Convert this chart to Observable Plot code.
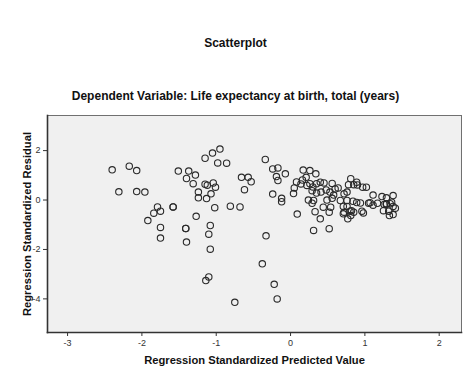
<!DOCTYPE html>
<html><head><meta charset="utf-8">
<script src="https://cdn.jsdelivr.net/npm/d3@7"></script>
<script src="https://cdn.jsdelivr.net/npm/@observablehq/plot@0.6"></script>
<style>html,body{margin:0;padding:0;background:#fff}</style>
</head><body><div id="chart"></div>
<script>
const chartTitle = "Scatterplot";
const subtitle = "Dependent Variable: Life expectancy at birth, total (years)";
const xLabel = "Regression Standardized Predicted Value";
const yLabel = "Regression Standardized Residual";
const xTicks = [-3, -2, -1, 0, 1, 2];
const yTicks = [-4, -2, 0, 2];
const predicted = [
-2.40,-2.17,-2.07,-2.31,-2.07,-1.96,-1.79,-1.84,-1.75,-1.58,-1.58,-1.92,-1.75,-1.75,-1.41,-1.41,-1.40,-1.51,-1.37,-1.40,
-1.15,-1.05,-0.95,-0.98,-0.86,-1.28,-1.31,-1.15,-1.12,-1.04,-1.01,-1.24,-1.07,-1.24,-1.13,-1.02,-0.81,-0.68,-1.27,-1.08,-1.10,-1.08,-1.10,-1.14,-0.75,-0.66,-0.57,-0.53,-0.62,-0.34,-0.33,-0.38,-0.22,-0.18,
-0.24,-0.17,-0.19,-0.17,-0.07,-0.24,-0.12,-0.12,0.17,0.26,0.34,0.08,0.16,0.21,0.14,0.22,0.05,0.04,0.26,0.30,0.29,0.35,0.40,0.45,0.56,0.48,0.53,0.41,0.35,0.24,0.29,0.31,0.49,0.56,0.58,0.60,0.64,0.72,0.76,0.81,0.78,0.85,0.89,0.90,0.97,1.02,0.67,0.76,0.84,0.89,0.94,0.76,0.72,0.82,0.85,0.96,0.98,0.77,0.54,0.44,0.52,0.09,0.33,0.40,0.31,0.52,0.71,0.80,0.71,0.81,1.05,1.11,1.07,1.11,1.17,1.23,1.29,1.38,1.26,1.29,1.29,1.29,1.34,1.38,1.41,1.25,1.32,1.33,1.38,1.36
];
const residual = [
1.22,1.37,1.19,0.33,0.34,0.32,-0.28,-0.53,-0.45,-0.28,-0.28,-0.83,-1.11,-1.54,-1.15,-1.15,-1.70,1.17,1.17,0.87,
1.69,1.90,2.06,1.50,1.49,1.01,0.66,0.64,0.60,0.69,0.52,0.32,0.25,0.09,0.06,-0.31,-0.25,-0.28,-0.66,-1.03,-1.38,-1.99,-3.11,-3.26,-4.14,0.92,0.92,0.74,0.42,1.64,-1.45,-2.58,-3.41,-4.00,
1.26,1.30,0.95,0.79,1.06,0.24,0.07,-0.07,1.21,1.19,1.06,0.73,0.81,0.92,0.65,0.59,0.49,0.26,0.66,0.53,0.38,0.66,0.72,0.69,0.67,0.41,0.32,0.32,0.28,0.00,-0.13,-0.02,0.00,0.07,0.20,0.45,0.49,0.25,0.32,0.86,0.62,0.62,0.72,0.61,0.52,0.52,-0.02,-0.02,-0.05,-0.10,-0.12,-0.26,-0.49,-0.43,-0.49,-0.45,-0.52,-0.76,-0.29,-0.29,-0.49,-0.57,-0.47,-0.76,-1.23,-1.16,-0.26,-0.45,-0.56,-0.63,-0.13,0.20,-0.11,-0.21,-0.13,0.14,0.09,0.18,-0.18,-0.16,-0.16,-0.16,-0.15,-0.26,-0.33,-0.43,-0.45,-0.63,-0.59,-0.09
];
const points = predicted.map((x, i) => ({x, y: residual[i]}));
const font = "'Liberation Sans', Arial, sans-serif";
const txt = {text: d => d, fontWeight: "bold", fontSize: 12, fill: "#111", lineAnchor: "middle", textAnchor: "middle"};
const plot = Plot.plot({
  width: 470, height: 376,
  marginTop: 115, marginBottom: 44, marginLeft: 47, marginRight: 9,
  style: {fontFamily: font, background: "#fff", color: "#222", overflow: "visible"},
  x: {domain: [-3.27, 2.30]},
  y: {domain: [-5.36, 3.42]},
  marks: [
    Plot.frame({fill: "#f0f0f0", stroke: "#707070"}),
    Plot.frame({anchor: "bottom", stroke: "#333", strokeWidth: 1.6}),
    Plot.frame({anchor: "left", stroke: "#333", strokeWidth: 1.6}),
    Plot.axisX(xTicks, {tickSize: 4, tickPadding: 3, fontSize: 9, tickFormat: d => String(d), label: null, stroke: "#333", fill: "#333"}),
    Plot.axisY(yTicks, {tickSize: 4, tickPadding: 3, fontSize: 9, tickFormat: d => String(d), label: null, stroke: "#333", fill: "#333"}),
    Plot.dot(points, {x: "x", y: "y", r: 3.2, stroke: "#2a2a2a", strokeWidth: 1.1, fill: "none"}),
    Plot.text([chartTitle], {...txt, frameAnchor: "top", dx: -19, dy: -72}),
    Plot.text([subtitle], {...txt, frameAnchor: "top", dx: -19, dy: -19}),
    Plot.text([xLabel], {...txt, fontSize: 11.2, frameAnchor: "bottom", dy: 28}),
    Plot.text([yLabel], {...txt, fontSize: 11.2, frameAnchor: "left", dx: -20, rotate: -90})
  ]
});
document.getElementById("chart").appendChild(plot);
</script>
</body></html>
